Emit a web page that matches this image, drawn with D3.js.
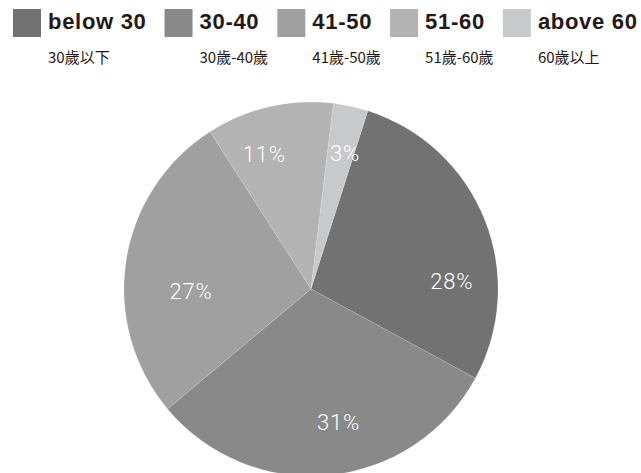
<!DOCTYPE html>
<html>
<head>
<meta charset="utf-8">
<script src="https://cdn.jsdelivr.net/npm/d3@7"></script>
<style>
  body { margin: 0; background: #fff; }
</style>
</head>
<body>
<script>
// age groups and their share (%)
var groups = ["below 30", "30-40", "41-50", "51-60", "above 60"];
var groupsZh = ["30歲以下", "30歲-40歲", "41歲-50歲", "51歲-60歲", "60歲以上"];
var shares = [28, 31, 27, 11, 3];
var colors = ["#727272", "#898989", "#a0a0a0", "#b3b3b3", "#c8c9cb"];

var w = 641;
var h = 473;
var cx = 311, cy = 289, radius = 187;
var startDeg = 17.7;
// label placement tweaks [degrees, px] relative to the slice centroid
var labelNudge = [[18.7, 3], [-6, -2], [-9.6, -18], [-6.2, 5], [1.8, 2]];

var svg = d3.select("body")
    .append("svg")
    .attr("width", w)
    .attr("height", h);

// legend
var legend = svg.append("g");
var lx = 13;
groups.forEach(function (g, i) {
    var item = legend.append("g").attr("transform", "translate(" + lx + ",0)");
    item.append("rect")
        .attr("x", 0)
        .attr("y", 9)
        .attr("width", 28)
        .attr("height", 28)
        .attr("fill", colors[i]);
    var t = item.append("text")
        .text(g)
        .attr("x", 35)
        .attr("y", 29)
        .attr("font-family", "'Liberation Sans', Arial, sans-serif")
        .attr("font-weight", "bold")
        .attr("font-size", "22px")
        .attr("letter-spacing", "0.7px")
        .attr("fill", "#231815");
    item.append("text")
        .text(groupsZh[i])
        .attr("x", 35)
        .attr("y", 63)
        .attr("font-family", "'Noto Sans CJK TC', sans-serif")
        .attr("font-size", "15px")
        .attr("fill", "#231815");
    lx += 35 + t.node().getComputedTextLength() + 18;
});

// pie
var pie = d3.pie()
    .sort(null)
    .startAngle(startDeg * Math.PI / 180)
    .endAngle((startDeg + 360) * Math.PI / 180);

var arc = d3.arc()
    .innerRadius(0)
    .outerRadius(radius);

var arcs = pie(shares);

var chart = svg.append("g")
    .attr("transform", "translate(" + cx + "," + cy + ")");

chart.selectAll("path")
    .data(arcs)
    .enter()
    .append("path")
    .attr("d", arc)
    .attr("fill", function (d, i) {
        return colors[i];
    })
    .attr("stroke", "#ffffff")
    .attr("stroke-opacity", 0.2)
    .attr("stroke-width", 0.6);

chart.selectAll("text")
    .data(arcs)
    .enter()
    .append("text")
    .text(function (d) {
        return d.data + "%";
    })
    .attr("transform", function (d, i) {
        var a = (d.startAngle + d.endAngle) / 2 + labelNudge[i][0] * Math.PI / 180;
        var r = 138 + labelNudge[i][1];
        return "translate(" + (Math.sin(a) * r) + "," + (-Math.cos(a) * r) + ")";
    })
    .attr("dy", "0.36em")
    .attr("text-anchor", "middle")
    .attr("font-family", "Roboto, sans-serif")
    .attr("font-weight", 300)
    .attr("font-size", "22px")
    .attr("letter-spacing", "0.8px")
    .attr("fill", "#ffffff");
</script>
</body>
</html>
